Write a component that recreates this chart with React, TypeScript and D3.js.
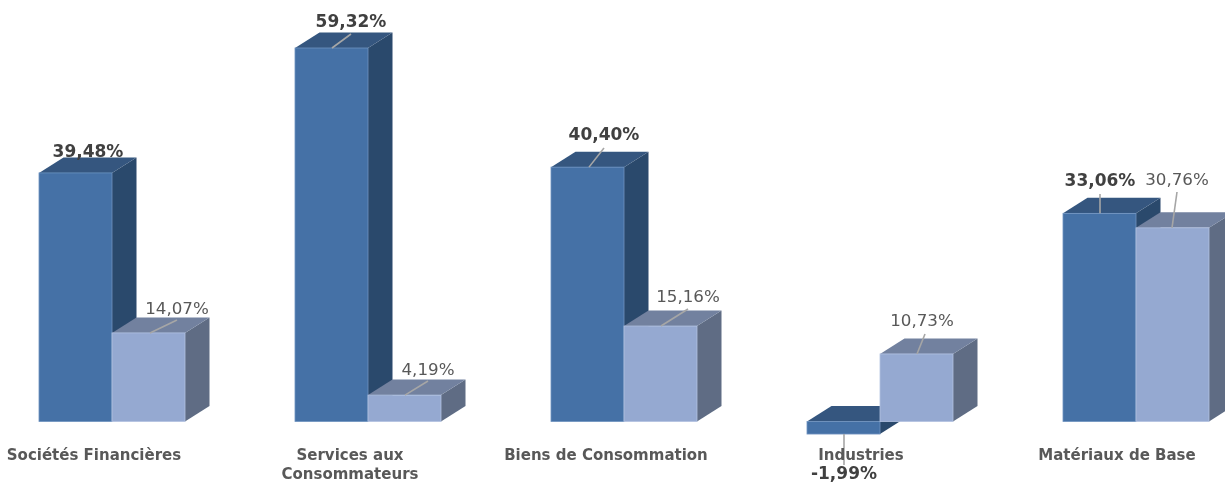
import React from "react";
import * as d3 from "d3";

const categories = ["Sociétés Financières", "Services aux|Consommateurs", "Biens de Consommation", "Industries", "Matériaux de Base"];
const seriesA = [39.48, 59.32, 40.40, -1.99, 33.06];
const seriesB = [14.07, 4.19, 15.16, 10.73, 30.76];

// label layout: [text centre x, text baseline y, leader end x, leader end y, leader start x]
const labelA: number[][] = [[88, 157, 0, 0, 0], [351, 27, 351, 34, 332], [604, 140, 604, 148, 589], [844, 479, 844, 465, 844], [1100, 186, 1100, 194, 1100]];
const labelB: number[][] = [[177, 314, 177, 320, 150], [428, 375, 428, 381, 405], [688, 302, 688, 309, 661], [922, 326, 925, 334, 917], [1177, 185, 1177, 192, 1172]];
const catLabelX = [94, 350, 606, 861, 1117];
const catLabelY = [460, 460, 460, 460, 460];

const W = 1225, H = 483, DX = 24.5, DY = -15.5;
const x = d3.scaleBand<number>().domain(d3.range(5)).range([39, 1319]).paddingInner(0).paddingOuter(0);
const y = d3.scaleLinear().domain([0, 59.32]).range([421.5, 48]);
const barW = 73;

const dark = { front: "#4471a6", top: "#34567f", side: "#2c496c", edge: "#6f93c0" };
const light = { front: "#95a9d1", top: "#72819f", side: "#5e6c84", edge: "#b3c3e2" };
const poly = (p: number[][]) => d3.line()(p as [number, number][])! + "Z";

function Bar({ x0, v, c }: { x0: number; v: number; c: typeof dark }) {
  const y0 = y(0), y1 = y(v);
  const t = Math.min(y0, y1), b = Math.max(y0, y1);
  const x1 = x0 + barW;
  return (
    <g>
      <path d={poly([[x1, t], [x1 + DX, t + DY], [x1 + DX, b + DY], [x1, b]])} fill={c.side} />
      <path d={poly([[x0, t], [x0 + DX, t + DY], [x1 + DX, t + DY], [x1, t]])} fill={c.top} />
      <rect x={x0} y={t} width={barW} height={b - t} fill={c.front} stroke={c.edge} strokeWidth={0.8} />
    </g>
  );
}

const fmt = (v: number) => v.toFixed(2).replace(".", ",") + "%";
const font = "'DejaVu Sans', Verdana, sans-serif";

export default function App() {
  return (
    <svg width={W} height={H} style={{ position: "absolute", left: 0, top: 0 }} fontFamily={font}>
      <defs>
        <filter id="soft" x="-2%" y="-2%" width="104%" height="104%">
          <feGaussianBlur stdDeviation="0.6" />
        </filter>
      </defs>
      <rect width={W} height={H} fill="#fff" />
      <g filter="url(#soft)">
        {categories.map((_, i) => {
          const x0 = x(i)!;
          return (
            <g key={i}>
              <Bar x0={x0} v={seriesA[i]} c={dark} />
              <Bar x0={x0 + barW} v={seriesB[i]} c={light} />
            </g>
          );
        })}
        {categories.map((_, i) => {
          const la = labelA[i], lb = labelB[i];
          return (
            <g key={i}>
              {la[2] > 0 && <line x1={la[4]} y1={y(seriesA[i])} x2={la[2]} y2={la[3]} stroke="#a6a6a6" strokeWidth={1.6} />}
              <line x1={lb[4]} y1={y(seriesB[i])} x2={lb[2]} y2={lb[3]} stroke="#a6a6a6" strokeWidth={1.6} />
              <text x={la[0]} y={la[1]} textAnchor="middle" fontSize={17} fontWeight="bold" fill="#404040">{fmt(seriesA[i])}</text>
              <text x={lb[0]} y={lb[1]} textAnchor="middle" fontSize={16.7} fill="#595959">{fmt(seriesB[i])}</text>
              {categories[i].split("|").map((s, j) => (
                <text key={j} x={catLabelX[i]} y={catLabelY[i] + j * 19} textAnchor="middle" fontSize={15} fontWeight="bold" fill="#595959">{s}</text>
              ))}
            </g>
          );
        })}
      </g>
    </svg>
  );
}
